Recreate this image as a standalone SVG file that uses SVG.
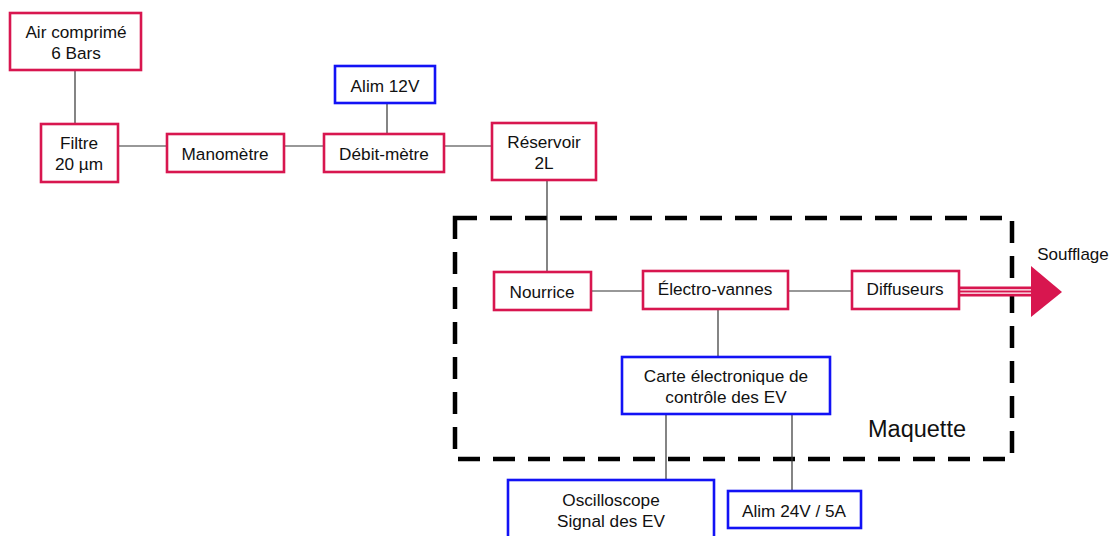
<svg xmlns="http://www.w3.org/2000/svg" width="1113" height="536" viewBox="0 0 1113 536">
<style>
  .r { fill: #fff; stroke: #D8164F; stroke-width: 2.6; }
  .b { fill: #fff; stroke: #1212F5; stroke-width: 2.6; }
  text { font-family: "Liberation Sans", Arial, sans-serif; font-size: 17.2px; fill: #111; text-anchor: middle; }
  .c line { stroke: #333; stroke-width: 1.2; }
</style>
<rect width="1113" height="536" fill="#fff"/>
<g id="maquette">
  <rect x="455" y="218" width="557" height="241" fill="none" stroke="#000" stroke-width="4.5" stroke-dasharray="22 13"/>
  <text x="917" y="437" style="font-size:23.5px">Maquette</text>
</g>
<g class="c" id="connectors">
  <line x1="75" y1="70" x2="75" y2="124"/>
  <line x1="118" y1="146" x2="167" y2="146"/>
  <line x1="284" y1="146" x2="324" y2="146"/>
  <line x1="387" y1="103" x2="387" y2="134"/>
  <line x1="444" y1="146" x2="492" y2="146"/>
  <line x1="547" y1="180" x2="547" y2="272"/>
  <line x1="591" y1="291" x2="643" y2="291"/>
  <line x1="788" y1="291" x2="852" y2="291"/>
  <line x1="718" y1="309" x2="718" y2="357"/>
  <line x1="666" y1="415" x2="666" y2="480"/>
  <line x1="792" y1="415" x2="792" y2="491"/>
</g>
<g id="soufflage">
  <rect x="959" y="286.5" width="73" height="10" fill="#D8164F"/>
  <line x1="959" y1="289.8" x2="1032" y2="289.8" stroke="#fff" stroke-width="1.3"/>
  <line x1="959" y1="293.2" x2="1032" y2="293.2" stroke="#fff" stroke-width="1.3"/>
  <polygon points="1031,266 1062,292 1031,317" fill="#D8164F"/>
  <text x="1073" y="260" style="font-size:17px">Soufflage</text>
</g>
<g id="air"><rect class="r" x="10" y="13" width="131" height="57"/><text x="76" y="38">Air comprimé</text><text x="76" y="59">6 Bars</text></g>
<g id="filtre"><rect class="r" x="41" y="124" width="77" height="58"/><text x="79" y="149">Filtre</text><text x="79" y="170">20 µm</text></g>
<g id="manometre"><rect class="r" x="167" y="134" width="117" height="38"/><text x="225" y="160">Manomètre</text></g>
<g id="alim12"><rect class="b" x="335" y="66" width="100" height="37"/><text x="385" y="92">Alim 12V</text></g>
<g id="debitmetre"><rect class="r" x="324" y="134" width="120" height="38"/><text x="384" y="160">Débit-mètre</text></g>
<g id="reservoir"><rect class="r" x="492" y="123" width="104" height="57"/><text x="544" y="148">Réservoir</text><text x="544" y="169">2L</text></g>
<g id="nourrice"><rect class="r" x="494" y="272" width="97" height="38"/><text x="542" y="298">Nourrice</text></g>
<g id="electrovannes"><rect class="r" x="643" y="271" width="145" height="38"/><text x="715" y="295">Électro-vannes</text></g>
<g id="diffuseurs"><rect class="r" x="852" y="271" width="107" height="38"/><text x="905" y="295">Diffuseurs</text></g>
<g id="carte"><rect class="b" x="622" y="357" width="208" height="57"/><text x="726" y="382" style="font-size:17.2px">Carte électronique de</text><text x="726" y="403" style="font-size:17.2px">contrôle des EV</text></g>
<g id="oscilloscope"><rect class="b" x="508" y="480" width="206" height="62"/><text x="611" y="506">Oscilloscope</text><text x="611" y="527">Signal des EV</text></g>
<g id="alim24"><rect class="b" x="728" y="491" width="133" height="37"/><text x="794" y="517">Alim 24V / 5A</text></g>
</svg>
